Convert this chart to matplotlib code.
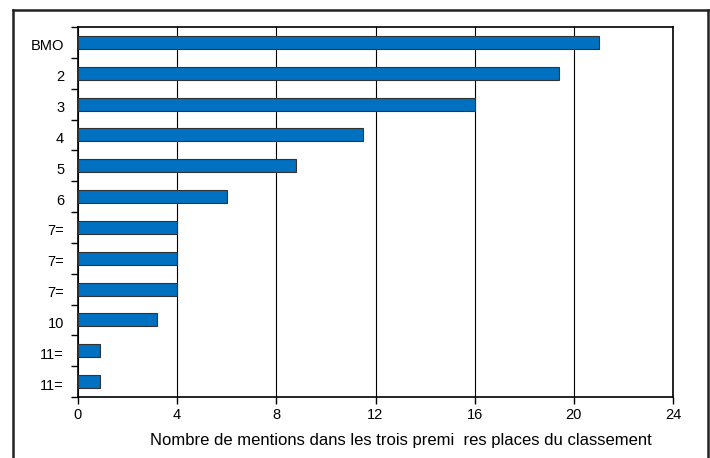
import matplotlib
matplotlib.use('Agg')
import matplotlib.pyplot as plt
from matplotlib.lines import Line2D
import numpy as np

plt.rcParams['font.family'] = ['Liberation Sans', 'DejaVu Sans']

# données
rangs = ['BMO', '2', '3', '4', '5', '6', '7=', '7=', '7=', '10', '11=', '11=']
mentions = [21, 19.4, 16, 11.5, 8.8, 6, 4, 4, 4, 3.2, 0.9, 0.9]
graduations = [0, 4, 8, 12, 16, 20, 24]
titre_x = 'Nombre de mentions dans les trois premi  res places du classement'

fig = plt.figure(figsize=(7.1, 4.58), dpi=100)
ax = fig.add_axes([78/710, 1-397/458, (673-78)/710, (397-27)/458])

pos = np.arange(len(rangs))
ax.barh(pos, mentions, height=0.42, color='#0070c0', edgecolor='#333333',
        linewidth=0.8, zorder=3)

ax.set_xlim(0, 24)
ax.set_ylim(len(rangs) - 0.5, -0.39)
ax.set_xticks(graduations)
ax.set_xticklabels([str(g) for g in graduations], fontsize=10.5)
ax.xaxis.grid(True, color='black', linewidth=0.8, zorder=0)

# étiquettes au centre des barres, petits traits entre les catégories
ax.set_yticks(pos + 0.08)
ax.set_yticklabels(rangs, fontsize=10.5)
ax.tick_params(axis='y', which='major', length=0, pad=10)
ax.set_yticks(np.arange(len(rangs) + 1) - 0.5, minor=True)
ax.tick_params(axis='y', which='minor', length=5, width=1, direction='out')
ax.tick_params(axis='x', length=5, width=1, direction='out', pad=3)

for s in ax.spines.values():
    s.set_linewidth(1.2)
    s.set_color('black')

fig.text(401/710, 1-440/458, titre_x, ha='center', va='center', fontsize=12)

# cadre extérieur
l, r, t = 13/710, 708/710, 1-10/458
for xs, ys in [([l, l], [-0.1, t]), ([l, r], [t, t]), ([r, r], [t, -0.1])]:
    fig.add_artist(Line2D(xs, ys, color='#222222', linewidth=1.8,
                          transform=fig.transFigure))

fig.savefig('out.png', dpi=100)
